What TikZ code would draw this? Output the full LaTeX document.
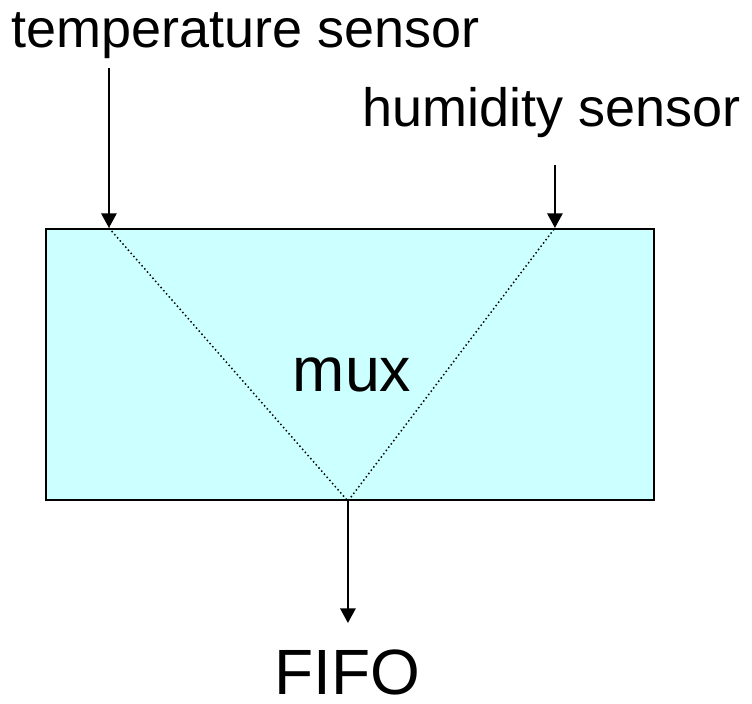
\documentclass[tikz,border=0pt]{standalone}
\usepackage{fontspec}
\setmainfont{Liberation Sans}
\usetikzlibrary{arrows.meta,positioning,calc}
\definecolor{muxfill}{RGB}{204,255,255}

\begin{document}
\begin{tikzpicture}[x=0.75pt,y=-0.75pt,
feed/.style={line width=1.6pt,-{Triangle[length=11pt,width=11.5pt]}},
lbl/.style={inner sep=0pt,font=\fontsize{40.5}{48}\selectfont}]
\useasboundingbox (0,0) rectangle (752,703);
\node[draw,line width=1.6pt,fill=muxfill,inner sep=0pt,minimum width=456pt,
minimum height=203.25pt] (box) at (350,364.5) {};
\node[inner sep=0pt,anchor=base,font=\fontsize{47}{56}\selectfont] (m) at (352,391) {mux};
\node[lbl,anchor=base west] (t) at (11,47) {temperature sensor};
\node[lbl,anchor=base west] (h) at (362,126) {humidity sensor};
\node[inner sep=0pt,anchor=base,font=\fontsize{48}{58}\selectfont] (f) at (347,694) {FIFO};
\coordinate (tin) at ($(box.north west)+(64,0)$);
\coordinate (hin) at ($(box.north west)+(510,0)$);
\coordinate (out) at ($(box.south west)+(303,0)$);
\draw[feed] (tin |- 0,68) -- (tin);
\draw[feed] (hin |- 0,165) -- (hin);
\draw[feed] (out) -- (out |- 0,623);
\draw[dotted,line width=1.1pt] (tin) -- (out) -- (hin);
\end{tikzpicture}
\end{document}
